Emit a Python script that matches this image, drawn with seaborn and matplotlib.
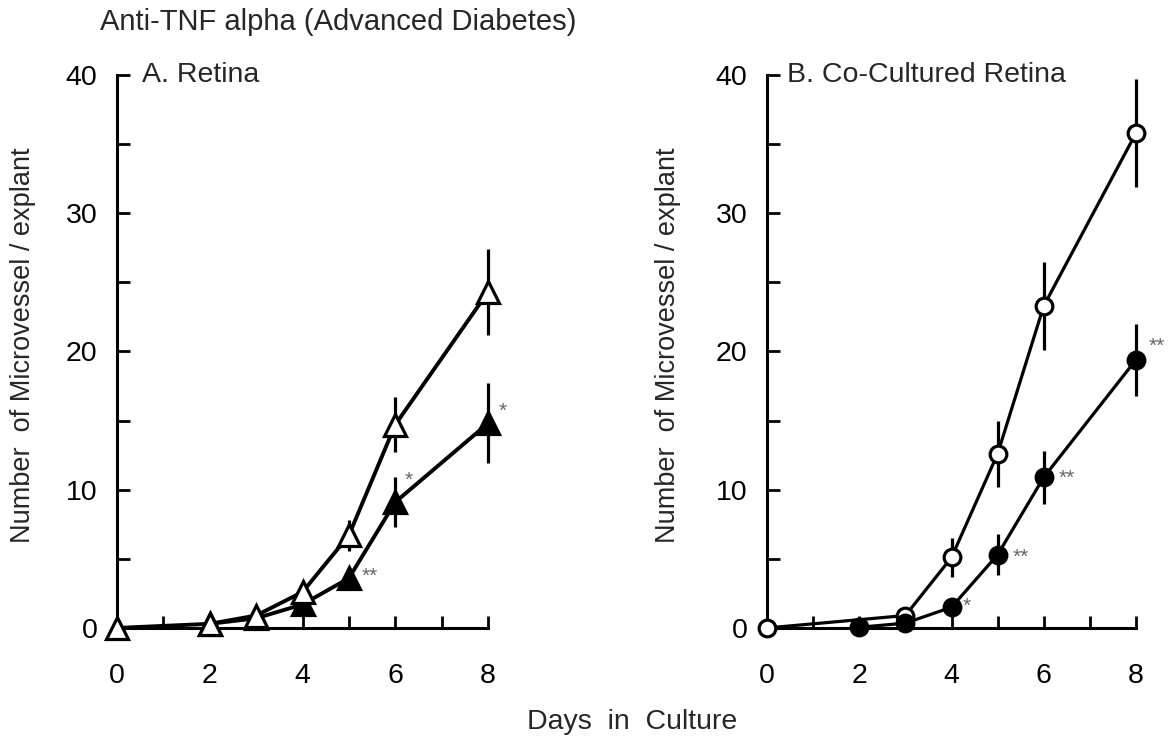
import matplotlib
matplotlib.use("Agg")
import matplotlib.pyplot as plt
import seaborn as sns
import pandas as pd
import numpy as np

# ---- data ----
days_ctrl = [0, 2, 3, 4, 5, 6, 8]
days_trt = [2, 3, 4, 5, 6, 8]

a_ctrl = [0.0, 0.3, 0.9, 2.6, 6.7, 14.7, 24.3]
a_ctrl_err = [0.0, 0.0, 0.0, 0.6, 1.1, 2.0, 3.1]
a_trt = [0.3, 0.7, 1.7, 3.6, 9.1, 14.8]
a_trt_err = [0.0, 0.0, 0.0, 0.4, 1.8, 2.9]
a_sig = ["", "", "", "**", "*", "*"]

b_ctrl_days = [0, 3, 4, 5, 6, 8]
b_ctrl = [0.0, 0.9, 5.1, 12.6, 23.3, 35.8]
b_ctrl_err = [0.0, 0.0, 1.4, 2.4, 3.2, 3.9]
b_trt = [0.05, 0.35, 1.5, 5.3, 10.9, 19.4]
b_trt_err = [0.0, 0.0, 0.0, 1.5, 1.9, 2.6]
b_sig = ["", "", "*", "**", "**", "**"]

sns.set_style("ticks")
plt.rcParams['font.family'] = ['Liberation Sans', 'DejaVu Sans']

fig = plt.figure(figsize=(11.75, 7.38), dpi=100)
axA = fig.add_axes([0.0996, 0.1491, 0.3157, 0.7493])
axB = fig.add_axes([0.6528, 0.1491, 0.3140, 0.7493])

FS = 20.5


def draw(ax, xc, yc, ec, xt, yt, et, sig, marker, msize, lw, ctrl_on_top, sig_offsets,
         label_x):
    zc, zt = (4, 3) if ctrl_on_top else (3, 4)
    for x, y, e in zip(xc, yc, ec):
        if e > 0:
            ax.plot([x, x], [y - e, y + e], color="black", lw=2.3, zorder=zc - 0.5,
                    clip_on=False, solid_capstyle="butt")
    for x, y, e in zip(xt, yt, et):
        if e > 0:
            ax.plot([x, x], [y - e, y + e], color="black", lw=2.3, zorder=zt - 0.5,
                    clip_on=False, solid_capstyle="butt")
    dc = pd.DataFrame({"day": xc, "val": yc})
    dt = pd.DataFrame({"day": xt, "val": yt})
    sns.lineplot(data=dc, x="day", y="val", ax=ax, color="black", lw=lw,
                 marker=marker, markersize=msize, markerfacecolor="white",
                 markeredgecolor="black", markeredgewidth=2.3, zorder=zc, clip_on=False)
    sns.lineplot(data=dt, x="day", y="val", ax=ax, color="black", lw=lw,
                 marker=marker, markersize=msize, markerfacecolor="black",
                 markeredgecolor="black", markeredgewidth=2.3, zorder=zt, clip_on=False)
    for x, y, s in zip(xt, yt, sig):
        if s:
            dx, dy = sig_offsets.get(x, (10, 0))
            ax.annotate(s, (x, y), xytext=(dx, dy), textcoords="offset points",
                        fontsize=15, color="#666666", ha="left", va="center",
                        annotation_clip=False)

    ax.set_xlim(0, 8)
    ax.set_ylim(0, 40)
    ax.set_xticks(range(0, 9))
    ax.set_xticklabels([str(i) if i % 2 == 0 else "" for i in range(0, 9)])
    ax.set_yticks([0, 10, 20, 30, 40])
    ax.set_yticks([5, 15, 25, 35], minor=True)
    ax.tick_params(axis="both", which="both", direction="in", length=9, width=2,
                   labelsize=FS, colors="black")
    ax.tick_params(axis="y", pad=14)
    ax.tick_params(axis="x", pad=25)
    for side in ["top", "right"]:
        ax.spines[side].set_visible(False)
    for side in ["left", "bottom"]:
        ax.spines[side].set_linewidth(2.2)
        ax.spines[side].set_color("black")
    ax.set_xlabel("")
    ax.set_ylabel("Number  of Microvessel / explant", fontsize=19.5, va="center")
    ax.yaxis.set_label_coords(label_x, 0.512)
    ax.set_facecolor("white")


draw(axA, days_ctrl, a_ctrl, a_ctrl_err, days_trt, a_trt, a_trt_err, a_sig,
     "^", 15.5, 2.8, True, {5: (9, 1), 6: (7, 16), 8: (8, 9)}, (23 - 117) / 371)
draw(axB, b_ctrl_days, b_ctrl, b_ctrl_err, days_trt, b_trt, b_trt_err, b_sig,
     "o", 12, 2.3, False, {4: (8, 1), 5: (11, -2), 6: (11, -1), 8: (9, 10)},
     (668 - 767) / 369)

axA.text(0.067, 1.0, "A. Retina", transform=axA.transAxes, fontsize=FS,
         ha="left", va="center")
axB.text(0.054, 1.0, "B. Co-Cultured Retina", transform=axB.transAxes, fontsize=FS,
         ha="left", va="center")
fig.text(100 / 1175, 1 - 22 / 738, "Anti-TNF alpha (Advanced Diabetes)", fontsize=21,
         ha="left", va="center")
fig.text(632 / 1175, 1 - 722 / 738, "Days  in  Culture", fontsize=FS,
         ha="center", va="center")

fig.savefig("out.png", dpi=100, facecolor="white")
